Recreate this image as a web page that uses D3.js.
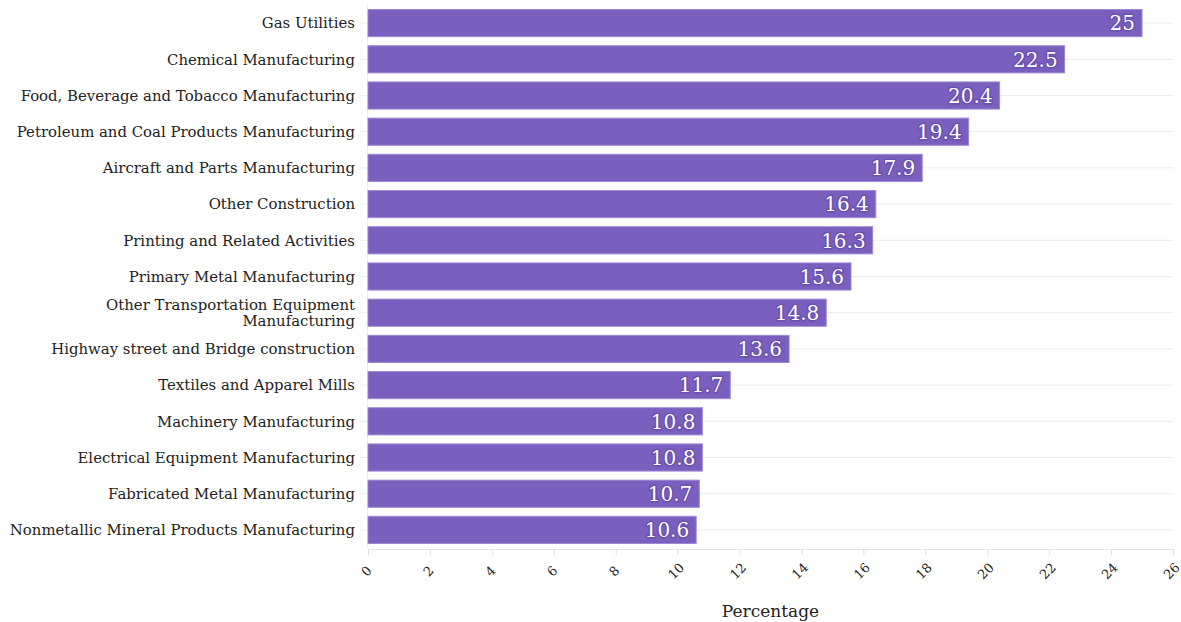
<!DOCTYPE html>
<html>
<head>
<meta charset="utf-8">
<script src="https://cdn.jsdelivr.net/npm/d3@7"></script>
<style>
  html, body { margin: 0; padding: 0; background: #fff; }
  svg { display: block; font-family: "DejaVu Serif", serif; }
</style>
</head>
<body>
<svg id="chart" width="1181" height="622"></svg>
<script>
// Industry categories, top to bottom
const categories = [
  "Gas Utilities",
  "Chemical Manufacturing",
  "Food, Beverage and Tobacco Manufacturing",
  "Petroleum and Coal Products Manufacturing",
  "Aircraft and Parts Manufacturing",
  "Other Construction",
  "Printing and Related Activities",
  "Primary Metal Manufacturing",
  "Other Transportation Equipment Manufacturing",
  "Highway street and Bridge construction",
  "Textiles and Apparel Mills",
  "Machinery Manufacturing",
  "Electrical Equipment Manufacturing",
  "Fabricated Metal Manufacturing",
  "Nonmetallic Mineral Products Manufacturing"
];
// Percentage per category
const values = [25, 22.5, 20.4, 19.4, 17.9, 16.4, 16.3, 15.6, 14.8, 13.6, 11.7, 10.8, 10.8, 10.7, 10.6];
// Category labels that are split over two lines
const wrappedLabels = {
  "Other Transportation Equipment Manufacturing": ["Other Transportation Equipment", "Manufacturing"]
};
const xTicks = d3.range(0, 27, 2);
const xTitle = "Percentage";

const data = categories.map((c, i) => ({ category: c, value: values[i] }));

const margin = { top: 5, right: 8, bottom: 74, left: 368 };
const width = 1181, height = 622;
const svg = d3.select("#chart");

const x = d3.scaleLinear().domain([0, 26]).range([margin.left, width - margin.right]);
const y = d3.scaleBand()
  .domain(categories)
  .range([margin.top, height - margin.bottom])
  .paddingInner(0.25)
  .paddingOuter(0.125);

const barColor = "#7a5fbe";

// Horizontal gridlines at each category
svg.append("g")
  .selectAll("line")
  .data(categories)
  .join("line")
  .attr("x1", x(0))
  .attr("x2", x(26))
  .attr("y1", d => y(d) + y.bandwidth() / 2)
  .attr("y2", d => y(d) + y.bandwidth() / 2)
  .attr("stroke", "#ececec")
  .attr("stroke-width", 1);

// Left baseline
svg.append("line")
  .attr("x1", x(0) - 0.5).attr("x2", x(0) - 0.5)
  .attr("y1", margin.top).attr("y2", height - margin.bottom)
  .attr("stroke", "#eeeeee");

// Bars
svg.append("g")
  .selectAll("rect")
  .data(data)
  .join("rect")
  .attr("x", x(0))
  .attr("y", d => y(d.category))
  .attr("width", d => x(d.value) - x(0))
  .attr("height", y.bandwidth())
  .attr("fill", barColor)
  .attr("stroke", "#9d88d4")
  .attr("stroke-width", 1);

// Value labels inside the bar ends
svg.append("g")
  .selectAll("text")
  .data(data)
  .join("text")
  .attr("x", d => x(d.value) - 7)
  .attr("y", d => y(d.category) + y.bandwidth() / 2)
  .attr("dy", "0.36em")
  .attr("text-anchor", "end")
  .attr("font-size", 20)
  .attr("fill", "#ffffff")
  .attr("stroke", "#6a4fb0")
  .attr("stroke-width", 3)
  .attr("stroke-linejoin", "round")
  .attr("paint-order", "stroke")
  .text(d => d.value);

// Category axis labels
const yLab = svg.append("g")
  .selectAll("text")
  .data(categories)
  .join("text")
  .attr("x", x(0) - 13)
  .attr("y", d => y(d) + y.bandwidth() / 2)
  .attr("text-anchor", "end")
  .attr("font-size", 14.9)
  .attr("fill", "#222");
yLab.each(function(d) {
  const lines = wrappedLabels[d] || [d];
  const t = d3.select(this);
  const n = lines.length;
  lines.forEach((ln, i) => {
    t.append("tspan")
      .attr("x", x(0) - 13)
      .attr("dy", i === 0 ? `${0.35 - (n - 1) * 0.55}em` : "1.1em")
      .text(ln);
  });
});

// Small tick marks in front of each gridline
svg.append("g")
  .selectAll("line")
  .data(categories)
  .join("line")
  .attr("x1", x(0) - 8).attr("x2", x(0) - 1)
  .attr("y1", d => y(d) + y.bandwidth() / 2)
  .attr("y2", d => y(d) + y.bandwidth() / 2)
  .attr("stroke", "#ececec");

// X axis
const xAxis = d3.axisBottom(x).tickValues(xTicks).tickSize(6).tickPadding(0);
const gx = svg.append("g")
  .attr("transform", `translate(0,${height - margin.bottom + 1})`)
  .call(xAxis);
gx.select(".domain").attr("stroke", "#e6e6e6");
gx.selectAll(".tick line").attr("stroke", "#e0e0e0");
gx.selectAll(".tick text")
  .attr("font-family", "DejaVu Serif, serif")
  .attr("font-size", 13)
  .attr("fill", "#222")
  .attr("text-anchor", "middle")
  .attr("y", 0)
  .attr("dy", "0.35em")
  .attr("transform", "translate(-2,22) rotate(-45)");

// X axis title
svg.append("text")
  .attr("x", (x(0) + x(26)) / 2)
  .attr("y", 617)
  .attr("text-anchor", "middle")
  .attr("font-size", 17)
  .attr("fill", "#222")
  .text(xTitle);
</script>
</body>
</html>
